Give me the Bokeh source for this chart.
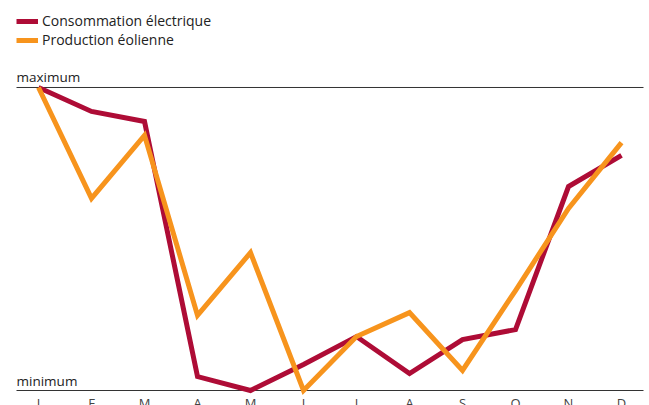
from bokeh.plotting import figure
from bokeh.models import Range1d, Legend, LegendItem, ColumnDataSource
from bokeh.core.properties import value
from bokeh.embed import file_html
from bokeh.resources import INLINE

months = ["J", "F", "M", "A", "M", "J", "J", "A", "S", "O", "N", "D"]
consommation = [1.0, 0.921, 0.888, 0.046, 0.0, 0.086, 0.178, 0.056, 0.168, 0.201, 0.673, 0.776]
production = [1.0, 0.634, 0.842, 0.248, 0.455, 0.0, 0.178, 0.257, 0.066, 0.330, 0.601, 0.818]
series_names = ["Consommation électrique", "Production éolienne"]
level_labels = ["maximum", "minimum"]

FONT = "Open Sans"
RED = "#AE0C36"
ORANGE = "#F7941D"

x = list(range(len(months)))

p = figure(width=649, height=405, output_backend="svg", toolbar_location=None,
           x_range=Range1d(-0.717, 11.528), y_range=Range1d(-0.0495, 1.2871),
           min_border=0)
p.xaxis.visible = False
p.yaxis.visible = False
p.grid.visible = False
p.outline_line_color = None
p.background_fill_color = "white"

# reference lines (maximum / minimum)
x0, x1 = -0.415, 11.415
for lvl, lab in zip([1.0, 0.0], level_labels):
    p.line([x0, x1], [lvl, lvl], line_color="#333333", line_width=1)
    p.text([x0], [lvl], text=[lab], text_font=value(FONT), text_font_size="13.5px",
           text_color="#222222", text_baseline="bottom", text_align="left",
           y_offset=-1)

r1 = p.line(x, consommation, line_color=RED, line_width=5, line_join="miter")
r2 = p.line(x, production, line_color=ORANGE, line_width=5, line_join="miter")

# month labels
src = ColumnDataSource(dict(x=x, y=[0.0] * len(x), t=months))
p.text("x", "y", text="t", source=src, text_font=value(FONT), text_font_size="13px",
       text_color="#444444", text_align="center", text_baseline="top", y_offset=3)

legend = Legend(items=[LegendItem(label=series_names[0], renderers=[r1]),
                       LegendItem(label=series_names[1], renderers=[r2])],
                location=(16, 356), padding=0, margin=0, spacing=0,
                glyph_width=22, glyph_height=16, label_height=16,
                label_standoff=4, label_text_font=FONT, label_text_font_size="14px",
                label_text_color="#222222", background_fill_alpha=0,
                border_line_color=None)
p.add_layout(legend)

open("out.html", "w").write(file_html(p, INLINE))
